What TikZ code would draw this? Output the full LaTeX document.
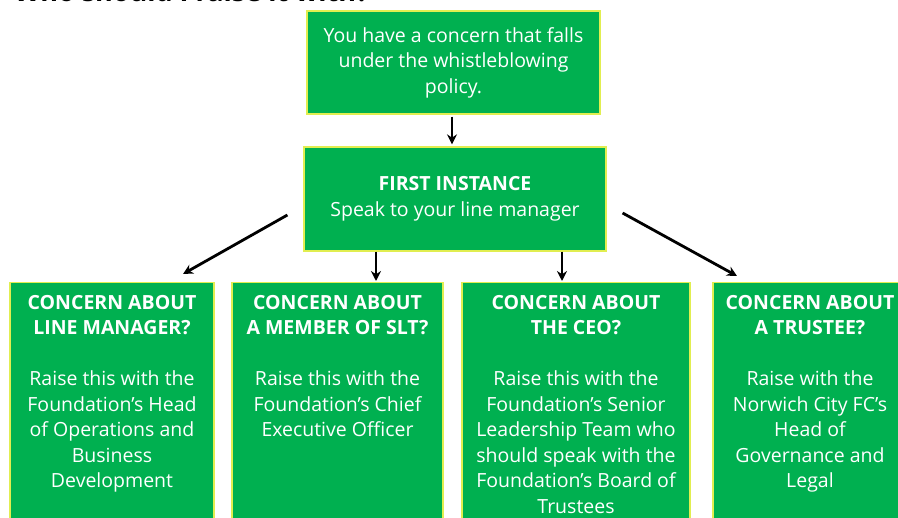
\documentclass[tikz,border=0pt]{standalone}
\usepackage{fontspec}
\setmainfont{Open Sans}
\usetikzlibrary{arrows.meta,calc}
\definecolor{boxgreen}{RGB}{0,176,80}
\definecolor{boxedge}{RGB}{225,238,80}
\begin{document}
\begin{tikzpicture}[x=1pt,y=-1pt,
  box/.style={draw=boxedge, line width=1.2pt, fill=boxgreen, inner sep=0pt,
    text=white, align=center, font=\fontsize{19.5}{25.5}\selectfont},
  boxtext/.style={text=white, align=center, inner sep=0pt, anchor=north,
    font=\fontsize{19.5}{25.5}\selectfont},
  flow/.style={line width=2.8pt, -{Stealth[length=10pt,width=10pt]}}]
\useasboundingbox (0,0) rectangle (898,518);
\clip (0,0) rectangle (898,518);

% heading above the chart
\node[anchor=base west, inner sep=0pt, font=\bfseries\fontsize{27}{32}\selectfont] (title) at (14,1.5) {Who should I raise it with?};

% top of the flow
\node[box, minimum width=293pt, minimum height=103pt] (start) at (453.5,62.5)
  {You have a concern that falls\\under the whistleblowing\\policy.};
\node[box, minimum width=302pt, minimum height=104pt] (first) at (455,199)
  {\textbf{FIRST INSTANCE}\\Speak to your line manager};

% the four routes
\node[box, minimum width=204pt, minimum height=258pt, anchor=north] (lm) at (112,282) {};
\node[box, minimum width=211pt, minimum height=258pt, anchor=north] (slt) at (337.5,282) {};
\node[box, minimum width=228pt, minimum height=258pt, anchor=north] (ceo) at (576,282) {};
\node[box, minimum width=194pt, minimum height=258pt, anchor=north] (trustee) at (810,282) {};

\node[boxtext] (lmtext) at ($(lm.north)+(0,13)$)
  {\textbf{CONCERN ABOUT}\\\textbf{LINE MANAGER?}\\[25.5pt]Raise this with the\\Foundation’s Head\\of Operations and\\Business\\Development};
\node[boxtext] (slttext) at ($(slt.north)+(0,13)$)
  {\textbf{CONCERN ABOUT}\\\textbf{A MEMBER OF SLT?}\\[25.5pt]Raise this with the\\Foundation’s Chief\\Executive Officer};
\node[boxtext] (ceotext) at ($(ceo.north)+(0,13)$)
  {\textbf{CONCERN ABOUT}\\\textbf{THE CEO?}\\[25.5pt]Raise this with the\\Foundation’s Senior\\Leadership Team who\\should speak with the\\Foundation’s Board of\\Trustees};
\node[boxtext] (trusteetext) at ($(trustee.north)+(0,13)$)
  {\textbf{CONCERN ABOUT}\\\textbf{A TRUSTEE?}\\[25.5pt]Raise with the\\Norwich City FC’s\\Head of\\Governance and\\Legal};

% connectors
\draw[flow] ($(start.south)+(-1.5,2)$) -- ($(first.north)+(-3,-2)$);
\draw[flow] ($(first.west)+(-16,16)$) -- ($(lm.north)+(71,-8)$);
\draw[flow] ($(first.south)+(-79,0)$) -- ($(slt.north)+(38.5,-1)$);
\draw[flow] ($(first.south)+(107,0)$) -- ($(ceo.north)+(-14,-1)$);
\draw[flow] ($(first.east)+(16,14)$) -- ($(trustee.north)+(-73,-6)$);
\end{tikzpicture}
\end{document}
